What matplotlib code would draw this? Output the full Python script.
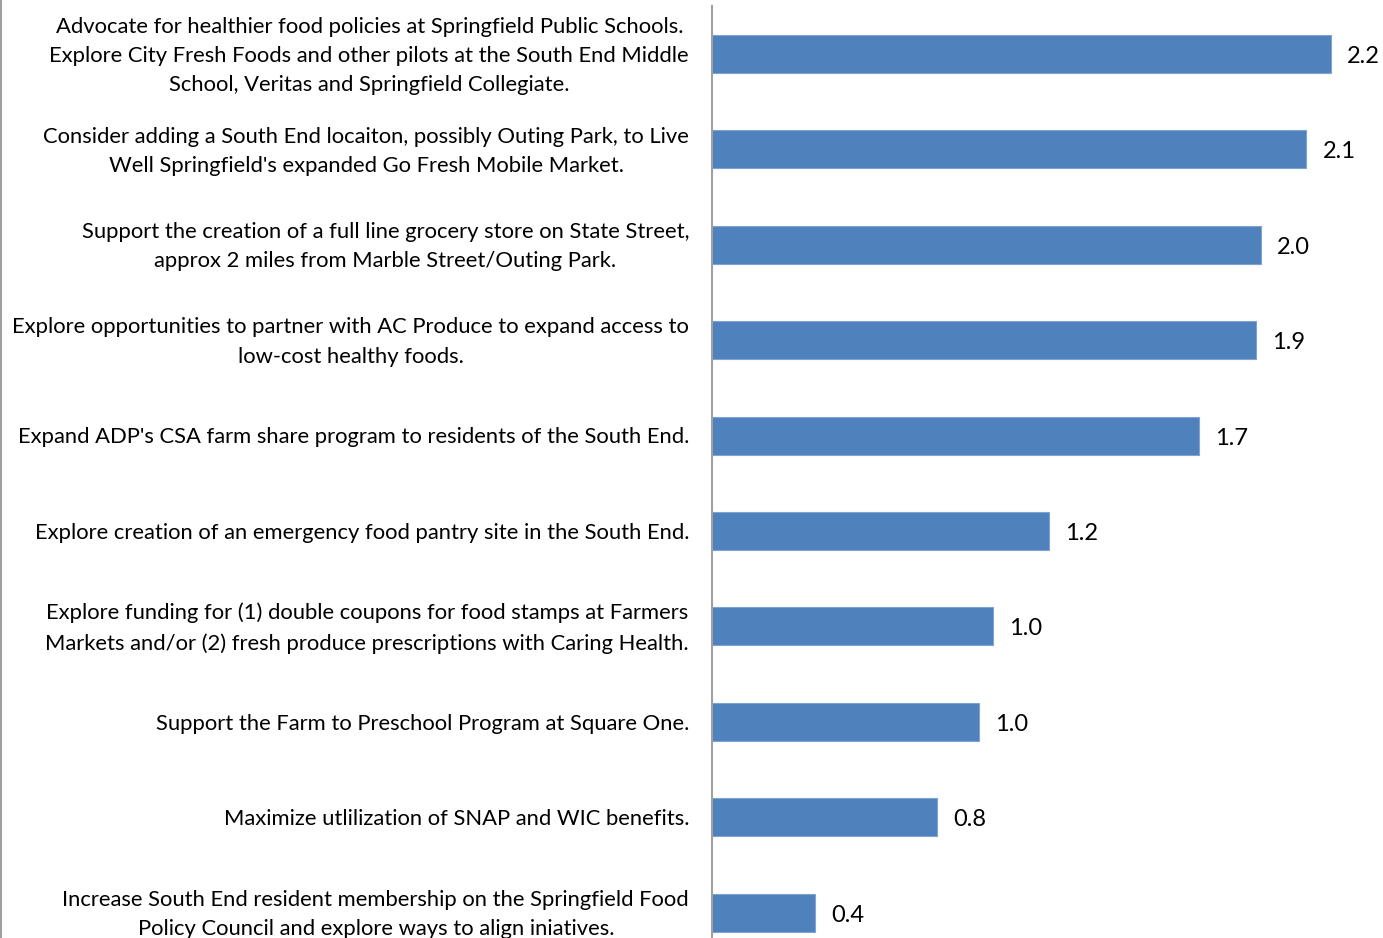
import matplotlib
matplotlib.use("Agg")
import matplotlib.pyplot as plt
import matplotlib.transforms as mtransforms

plt.rcParams['font.family'] = ['Lato', 'DejaVu Sans']

strategies = [
    "Advocate for healthier food policies at Springfield Public Schools.\nExplore City Fresh Foods and other pilots at the South End Middle\nSchool, Veritas and Springfield Collegiate.",
    "Consider adding a South End locaiton, possibly Outing Park, to Live\nWell Springfield's expanded Go Fresh Mobile Market.",
    "Support the creation of a full line grocery store on State Street,\napprox 2 miles from Marble Street/Outing Park.",
    "Explore opportunities to partner with AC Produce to expand access to\nlow-cost healthy foods.",
    "Expand ADP's CSA farm share program to residents of the South End.",
    "Explore creation of an emergency food pantry site in the South End.",
    "Explore funding for (1) double coupons for food stamps at Farmers\nMarkets and/or (2) fresh produce prescriptions with Caring Health.",
    "Support the Farm to Preschool Program at Square One.",
    "Maximize utlilization of SNAP and WIC benefits.",
    "Increase South End resident membership on the Springfield Food\nPolicy Council and explore ways to align iniatives.",
]
scores = [2.209, 2.123, 1.959, 1.943, 1.739, 1.204, 1.004, 0.954, 0.804, 0.368]

W, H = 1383, 938
fig = plt.figure(figsize=(W / 100, H / 100), dpi=100)

# axes placed in pixel terms; bottom category runs past the lower edge
ax_left, ax_top = 712, 6.3
cat_h = 95.4
ax_h = cat_h * len(scores)
ax = fig.add_axes([ax_left / W, 1 - (ax_top + ax_h) / H, (W - ax_left) / W, ax_h / H])

pos = list(range(len(scores)))
ax.barh(pos, scores, height=0.4, color='#4F81BD', edgecolor='#7FA3D3', linewidth=0.8)
ax.set_ylim(len(scores) - 0.5, -0.5)
ax.set_xlim(0, (W - ax_left) / 280)

for y, v in zip(pos, scores):
    ax.annotate(f"{v:.1f}", xy=(v, y), xytext=(11.5, -6.5), textcoords='offset points',
                va='baseline', ha='left', fontsize=17, color='black')

# category labels, right-aligned against the axis with centred lines
ax.set_yticks([])
base = mtransforms.blended_transform_factory(ax.transAxes, ax.transData)
shift = mtransforms.ScaledTranslation(-16.5 / 72, -1.3 / 72, fig.dpi_scale_trans)
for y, label in zip(pos, strategies):
    ax.text(0, y, label, transform=base + shift, ha='right', va='center',
            multialignment='center', fontsize=15.8, linespacing=1.58,
            color='black', clip_on=False)

ax.set_xticks([])
for s in ['top', 'right', 'bottom']:
    ax.spines[s].set_visible(False)
ax.spines['left'].set_color('#A0A0A0')
ax.spines['left'].set_linewidth(1.5)

# thin frame line along the left edge of the figure
fig.add_artist(plt.Line2D([0.0008, 0.0008], [0, 1], transform=fig.transFigure,
                          color='#A0A0A0', linewidth=1.5))

fig.savefig("out.png", dpi=100)
